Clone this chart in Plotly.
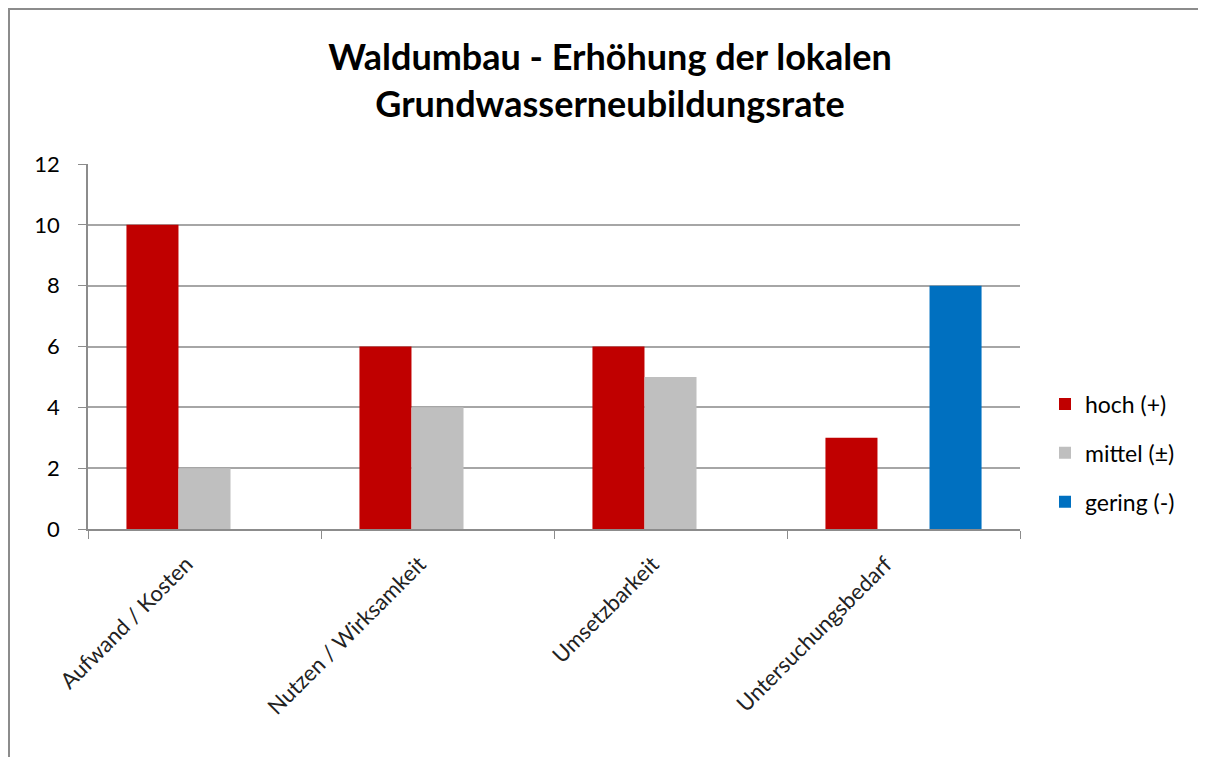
import plotly.graph_objects as go

# Waldumbau - Bewertung nach Kriterien
categories = ["Aufwand / Kosten", "Nutzen / Wirksamkeit", "Umsetzbarkeit", "Untersuchungsbedarf"]
hoch = [10, 6, 6, 3]
mittel = [2, 4, 5, 0]
gering = [0, 0, 0, 8]

series = [
    ("hoch (+)", hoch, "#C00000"),
    ("mittel (±)", mittel, "#BFBFBF"),
    ("gering (-)", gering, "#0070C0"),
]

fig = go.Figure()
for name, vals, col in series:
    fig.add_trace(go.Bar(
        x=categories, y=vals, name=name, legendgroup=name,
        marker=dict(color=col, line_width=0),
    ))

# page has an 8px body margin, so figure coords = page coords - 8
# (size kept below window size so no scrollbars show up)
W, H = 1190, 749
L, T = 80, 156
pw, ph = 932, 365
R, B = W - L - pw, H - T - ph


def px(x):
    return (x - L) / pw


def py(y):
    return (T + ph - y) / ph


# chart border (top and left edge like the source image)
fig.add_shape(type="line", xref="paper", yref="paper", x0=px(0), x1=px(W), y0=py(1), y1=py(1),
              line=dict(color="#8c8c8c", width=2))
fig.add_shape(type="line", xref="paper", yref="paper", x0=px(1), x1=px(1), y0=py(0), y1=py(H),
              line=dict(color="#8c8c8c", width=2))

fig.update_layout(
    width=W, height=H,
    margin=dict(l=L, r=R, t=T, b=B),
    paper_bgcolor="white", plot_bgcolor="white",
    font=dict(family="Lato, Carlito, sans-serif", color="#000000"),
    title=dict(
        text="<b>Waldumbau - Erhöhung der lokalen<br>Grundwasserneubildungsrate</b>",
        font=dict(size=36, color="#000000"),
        x=px(602), xref="paper", xanchor="center",
        y=1 - 62 / H, yref="container", yanchor="top",
    ),
    barmode="group", bargap=0.33, bargroupgap=0,
    legend=dict(
        x=px(1037), y=py(445), xanchor="left", yanchor="middle",
        font=dict(size=23), traceorder="grouped", tracegroupgap=16,
    ),
    xaxis=dict(
        showline=True, linecolor="#8c8c8c", linewidth=1.5,
        ticks="outside", tickson="boundaries", ticklen=8, tickcolor="#8c8c8c",
        tickangle=-45, tickfont=dict(size=22, color="#222222"),
        ticklabelstandoff=12, ticklabelshift=-18,
        showgrid=False,
    ),
    yaxis=dict(
        range=[0, 12], dtick=2, showline=True, linecolor="#8c8c8c", linewidth=1.5,
        ticks="outside", ticklen=8, tickcolor="#8c8c8c",
        showgrid=True, gridcolor="#a6a6a6", gridwidth=1.5, zeroline=False,
        tickfont=dict(size=22, color="#000000"), ticklabelstandoff=14,
    ),
)

fig.write_html("out.html")
